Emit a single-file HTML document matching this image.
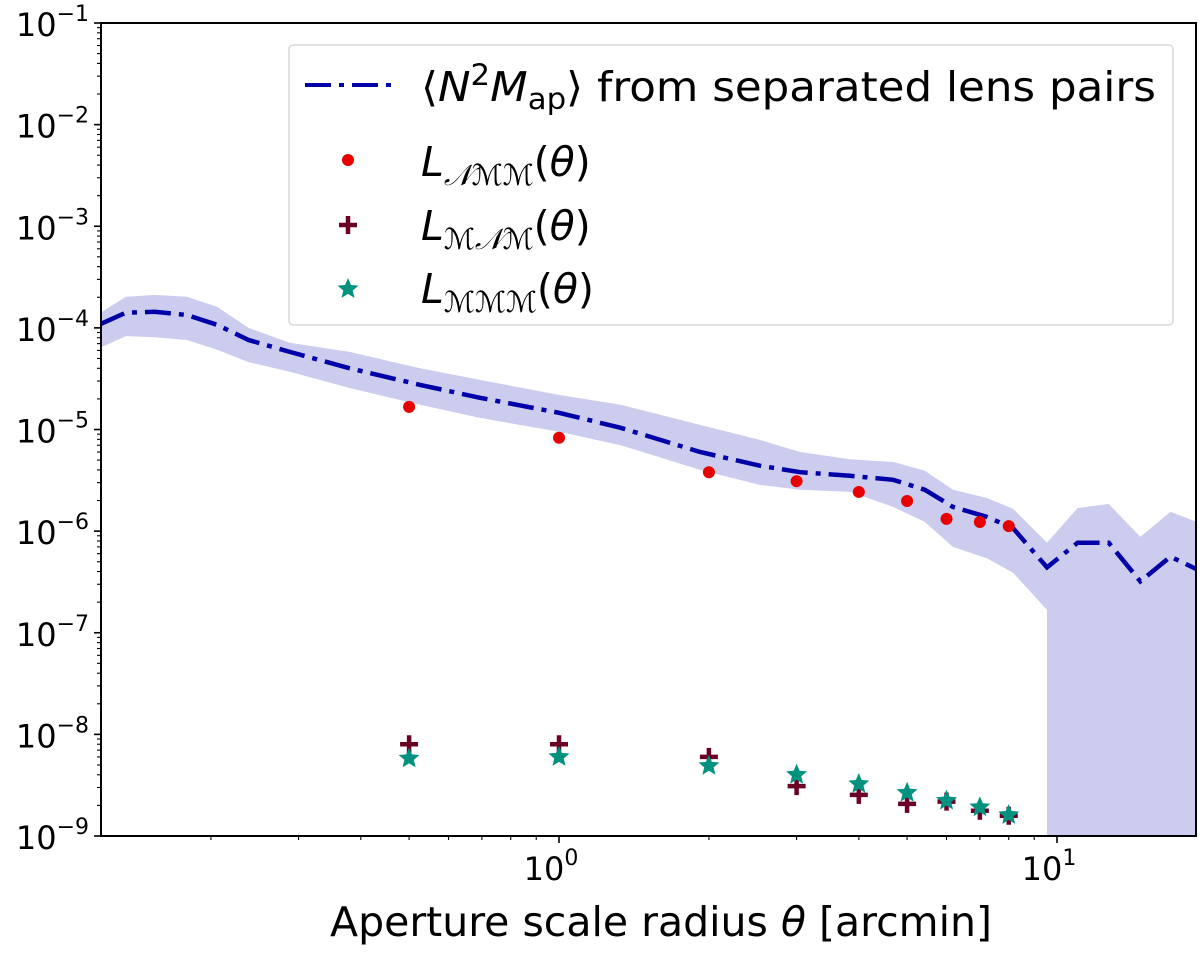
<!DOCTYPE html>
<html><head><meta charset="utf-8"><style>
html,body{margin:0;padding:0;background:#fff;}
svg{display:block;font-family:"DejaVu Sans","Liberation Sans",sans-serif;}
</style></head><body>
<svg id="chart" width="1200" height="953" viewBox="0 0 1200 953" xmlns="http://www.w3.org/2000/svg">
<defs><clipPath id="clip"><rect x="101" y="23" width="1095" height="813"/></clipPath></defs>
<g id="plot" clip-path="url(#clip)"></g>
<g id="axes"></g>
<g id="legend">
<rect x="289" y="45" width="884" height="280" rx="4" fill="#fff" fill-opacity="0.8" stroke="#d9d9d9" stroke-width="1.5"/>
<line x1="305" y1="85" x2="391" y2="85" stroke="#0000a8" stroke-width="4" stroke-dasharray="26,8,5,8"/>
<text x="421" y="101" font-size="41" textLength="735" lengthAdjust="spacingAndGlyphs">⟨<tspan font-style="italic">N</tspan><tspan font-size="29" dy="-16">2</tspan><tspan font-style="italic" dy="16">M</tspan><tspan font-size="29" dy="8">ap</tspan><tspan dy="-8">⟩ from separated lens pairs</tspan></text>
<circle cx="348" cy="160" r="6" fill="#e60000"/>
<text x="421" y="176" font-size="41"><tspan font-style="italic">L</tspan><tspan font-size="29" font-style="italic" dy="9">𝒩ℳℳ</tspan><tspan dy="-9">(</tspan><tspan font-style="italic">θ</tspan>)</text>
<path d="M339,225H357M348,216V234" stroke="#6b0026" stroke-width="4.5" fill="none"/>
<text x="421" y="240" font-size="41"><tspan font-style="italic">L</tspan><tspan font-size="29" font-style="italic" dy="9">ℳ𝒩ℳ</tspan><tspan dy="-9">(</tspan><tspan font-style="italic">θ</tspan>)</text>
<polygon id="legstar" fill="#00917f"/>
<text x="421" y="303" font-size="41"><tspan font-style="italic">L</tspan><tspan font-size="29" font-style="italic" dy="9">ℳℳℳ</tspan><tspan dy="-9">(</tspan><tspan font-style="italic">θ</tspan>)</text>
</g>
</svg>
<script>
const lineTheta=[0.120,0.135,0.154,0.179,0.206,0.238,0.288,0.380,0.526,0.694,1.0,1.33,1.92,2.53,3.05,3.84,4.69,5.43,6.18,7.23,8.16,9.55,11.0,12.7,14.7,16.9,19.1];
const lineVals=[1.09e-4,1.41e-4,1.44e-4,1.34e-4,1.07e-4,7.6e-5,5.8e-5,4.0e-5,2.75e-5,2.05e-5,1.46e-5,1.04e-5,6.0e-6,4.4e-6,3.8e-6,3.5e-6,3.2e-6,2.55e-6,1.73e-6,1.38e-6,1.07e-6,4.4e-7,7.7e-7,7.7e-7,3.2e-7,5.6e-7,4.2e-7];
const bandUpper=[1.41e-4,2.02e-4,2.11e-4,2.02e-4,1.61e-4,1.00e-4,7.15e-5,5.8e-5,4.0e-5,3.08e-5,2.19e-5,1.75e-5,1.11e-5,7.9e-6,6.0e-6,5.1e-6,4.8e-6,3.92e-6,2.55e-6,2.12e-6,1.66e-6,7.7e-7,1.69e-6,1.85e-6,8.8e-7,1.55e-6,1.23e-6];
const bandLower=[6.4e-5,8.3e-5,8.1e-5,7.6e-5,6.1e-5,4.6e-5,3.7e-5,2.56e-5,1.75e-5,1.30e-5,9.5e-6,7.0e-6,4.0e-6,2.85e-6,2.55e-6,2.43e-6,1.73e-6,1.23e-6,7.0e-7,5.4e-7,3.9e-7,1.68e-7,0,0,0,0,0];
const ptTheta=[0.5,1,2,3,4,5,6,7,8];
const nmmVals=[1.67e-5,8.3e-6,3.8e-6,3.1e-6,2.43e-6,1.98e-6,1.32e-6,1.23e-6,1.12e-6];
const mnmVals=[8.0e-9,8.0e-9,6.0e-9,3.1e-9,2.54e-9,2.07e-9,2.18e-9,1.77e-9,1.58e-9];
const mmmVals=[5.8e-9,6.0e-9,4.9e-9,4.0e-9,3.25e-9,2.67e-9,2.23e-9,1.92e-9,1.61e-9];
const yTickExps=[-9,-8,-7,-6,-5,-4,-3,-2,-1];
const xTickExps=[0,1];

const L=101,R=1196,T=23,B=836;
const X0=559,XD=498;
const YMIN=-9,YMAX=-1;
function xs(t){return X0+Math.log10(t)*XD;}
function ys(v){return B-(Math.log10(v)-YMIN)/(YMAX-YMIN)*(B-T);}
const NS="http://www.w3.org/2000/svg";
function mk(tag,attrs,parent){const e=document.createElementNS(NS,tag);for(const k in attrs)e.setAttribute(k,attrs[k]);parent.appendChild(e);return e;}
const plot=document.getElementById('plot'),axes=document.getElementById('axes');

let up=[],lo=[];
for(let i=0;i<lineTheta.length;i++){up.push(xs(lineTheta[i]).toFixed(1)+','+ys(bandUpper[i]).toFixed(1));}
let lastX=null;
for(let i=0;i<lineTheta.length;i++){
  if(bandLower[i]>0){lo.push(xs(lineTheta[i]).toFixed(1)+','+ys(bandLower[i]).toFixed(1));lastX=xs(lineTheta[i]);}
  else{ if(lastX!==null){lo.push(lastX.toFixed(1)+','+(B+50));lastX=null;} lo.push(xs(lineTheta[i]).toFixed(1)+','+(B+50)); }
}
const band=mk('polygon',{points:up.concat(lo.reverse()).join(' '),fill:'#cccdee',stroke:'none'},plot);



const line=mk('polyline',{points:lineTheta.map((t,i)=>xs(t).toFixed(1)+','+ys(lineVals[i]).toFixed(1)).join(' '),fill:'none',stroke:'#0000a8','stroke-width':4.5,'stroke-dasharray':'26,8,5,8'},plot);



ptTheta.forEach((t,i)=>{
  const c=mk('circle',{cx:xs(t),cy:ys(nmmVals[i]),r:6,fill:'#e60000'},plot);
  
  
});
ptTheta.forEach((t,i)=>{
  const x=xs(t),y=ys(mnmVals[i]);
  const p=mk('path',{d:`M${x-9},${y}H${x+9}M${x},${y-9}V${y+9}`,stroke:'#6b0026','stroke-width':4.5,fill:'none'},plot);
  
  
});
function starPts(cx,cy,r){let s=[];for(let k=0;k<10;k++){const a=-Math.PI/2+k*Math.PI/5;const rr=k%2?r*0.45:r;s.push((cx+rr*Math.cos(a)).toFixed(1)+','+(cy+rr*Math.sin(a)).toFixed(1));}return s.join(' ');}
ptTheta.forEach((t,i)=>{
  const s=mk('polygon',{points:starPts(xs(t),ys(mmmVals[i]),11),fill:'#00917f'},plot);
  
  
});
document.getElementById('legstar').setAttribute('points',starPts(348,289,11));

const frame=mk('rect',{x:L,y:T,width:R-L,height:B-T,fill:'none',stroke:'#000','stroke-width':2},axes);



yTickExps.forEach(e=>{
  const y=ys(Math.pow(10,e));
  mk('line',{x1:L-7,x2:L,y1:y,y2:y,stroke:'#000','stroke-width':1.6},axes);
  const tx=mk('text',{x:L-12,y:y+13,'font-size':32,'text-anchor':'end'},axes);
  tx.innerHTML='10<tspan font-size="22" dy="-15">−'+Math.abs(e)+'</tspan>';
  
  
  if(e<YMAX){for(let m=2;m<10;m++){const ym=ys(m*Math.pow(10,e));mk('line',{x1:L-4,x2:L,y1:ym,y2:ym,stroke:'#000','stroke-width':1.1},axes);}}
});
xTickExps.forEach(e=>{
  const x=xs(Math.pow(10,e));
  mk('line',{x1:x,x2:x,y1:B,y2:B+7,stroke:'#000','stroke-width':1.6},axes);
  const tx=mk('text',{x:x-8,y:B+44,'font-size':32,'text-anchor':'middle'},axes);
  tx.innerHTML='10<tspan font-size="22" dy="-15">'+e+'</tspan>';
  
  
});
for(let e=-1;e<=1;e++){for(let m=2;m<10;m++){const x=xs(m*Math.pow(10,e));if(x<L||x>R)continue;mk('line',{x1:x,x2:x,y1:B,y2:B+4,stroke:'#000','stroke-width':1.1},axes);}}

const xl=mk('text',{x:661,y:936,'font-size':41,'text-anchor':'middle'},axes);
xl.innerHTML='Aperture scale radius <tspan font-style="italic">θ</tspan> [arcmin]';


</script>
</body></html>
